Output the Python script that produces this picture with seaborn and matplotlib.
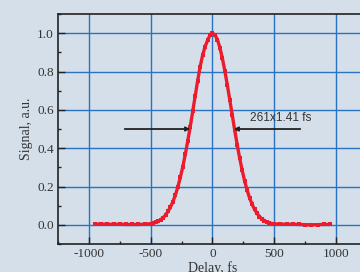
import matplotlib
matplotlib.use("Agg")
import matplotlib.pyplot as plt
import seaborn as sns
from matplotlib.ticker import MultipleLocator

# ── données ────────────────────────────────────────────────────
delay_left_wing = [-950, -900, -850, -800, -750, -700, -650, -600, -550]
signal_left_wing = [0.004, 0.004, 0.003, 0.003, 0.003, 0.002, 0.002, 0.002, 0.003]

delay_center = list(range(-500, 520, 20))
signal_center = [
    0.006, 0.009, 0.013, 0.019, 0.027, 0.037, 0.051, 0.070, 0.093, 0.121,
    0.156, 0.198, 0.248, 0.304, 0.368, 0.438, 0.512, 0.592, 0.672, 0.752,
    0.824, 0.885, 0.930, 0.962, 0.990, 1.000, 0.991, 0.966, 0.924, 0.869,
    0.803, 0.730, 0.652, 0.572, 0.493, 0.418, 0.348, 0.285, 0.229, 0.181,
    0.141, 0.108, 0.081, 0.060, 0.043, 0.031, 0.022, 0.015, 0.010, 0.007,
    0.005,
]

delay_right_wing = [550, 600, 650, 700, 750, 800, 850, 900, 950]
signal_right_wing = [0.004, 0.003, 0.003, 0.002, 0.001, 0.000, 0.001, 0.002, 0.002]

delay = delay_left_wing + delay_center + delay_right_wing
signal = signal_left_wing + signal_center + signal_right_wing

x_ticks = [-1000, -500, 0, 500, 1000]
y_ticks = [0.0, 0.2, 0.4, 0.6, 0.8, 1.0]
fwhm_label = "261x1.41 fs"

# ── style ──────────────────────────────────────────────────────
bg = "#d4dfea"
sns.set_style("white", {"axes.facecolor": bg, "figure.facecolor": bg})
plt.rcParams["font.family"] = ["Liberation Serif", "DejaVu Serif"]

fig = plt.figure(figsize=(3.6, 2.72), dpi=100)
ax = fig.add_axes([0.1611, 0.1029, 0.8583, 0.8456])

sns.lineplot(
    x=delay, y=signal, ax=ax,
    color="#ec1c2c", linewidth=2.4,
    marker="s", markersize=3.2, markeredgewidth=0,
    zorder=3,
)

ax.set_xlim(-1250, 1250)
ax.set_ylim(-0.1, 1.1)
ax.set_xticks(x_ticks)
ax.set_xticklabels([str(v) for v in x_ticks])
ax.set_yticks(y_ticks)
ax.set_yticklabels([f"{v:.1f}" for v in y_ticks])
ax.xaxis.set_minor_locator(MultipleLocator(250))
ax.yaxis.set_minor_locator(MultipleLocator(0.1))

ax.grid(True, which="major", color="#2a72c4", linewidth=1.0, zorder=1)
ax.set_axisbelow(True)

ax.tick_params(axis="both", which="major", direction="in", length=5,
               width=1.0, colors="#222222", labelsize=9.5,
               labelcolor="#333333", pad=3,
               top=False, right=False, bottom=True, left=True)
ax.tick_params(axis="both", which="minor", direction="in", length=2.5,
               width=1.0, colors="#222222",
               top=False, right=False, bottom=True, left=True)

for side in ["left", "bottom", "top", "right"]:
    ax.spines[side].set_color("#222222")
    ax.spines[side].set_linewidth(1.2)
    ax.spines[side].set_visible(True)

ax.set_xlabel("Delay, fs", fontsize=10, color="#333333", labelpad=1)
ax.set_ylabel("Signal, a.u.", fontsize=10, color="#333333", labelpad=3)

# flèches de largeur à mi-hauteur
arrow_kw = dict(arrowstyle="-|>", color="#222222", lw=1.3,
                mutation_scale=6, shrinkA=0, shrinkB=0)
ax.annotate("", xy=(-180, 0.5), xytext=(-710, 0.5), arrowprops=arrow_kw,
            zorder=4)
ax.annotate("", xy=(172, 0.5), xytext=(710, 0.5), arrowprops=arrow_kw,
            zorder=4)
ax.text(548, 0.556, fwhm_label, ha="center", va="center", fontsize=8.6,
        color="#333333", family=["Liberation Sans", "DejaVu Sans"])

fig.savefig("out.png", dpi=100, facecolor=bg)
